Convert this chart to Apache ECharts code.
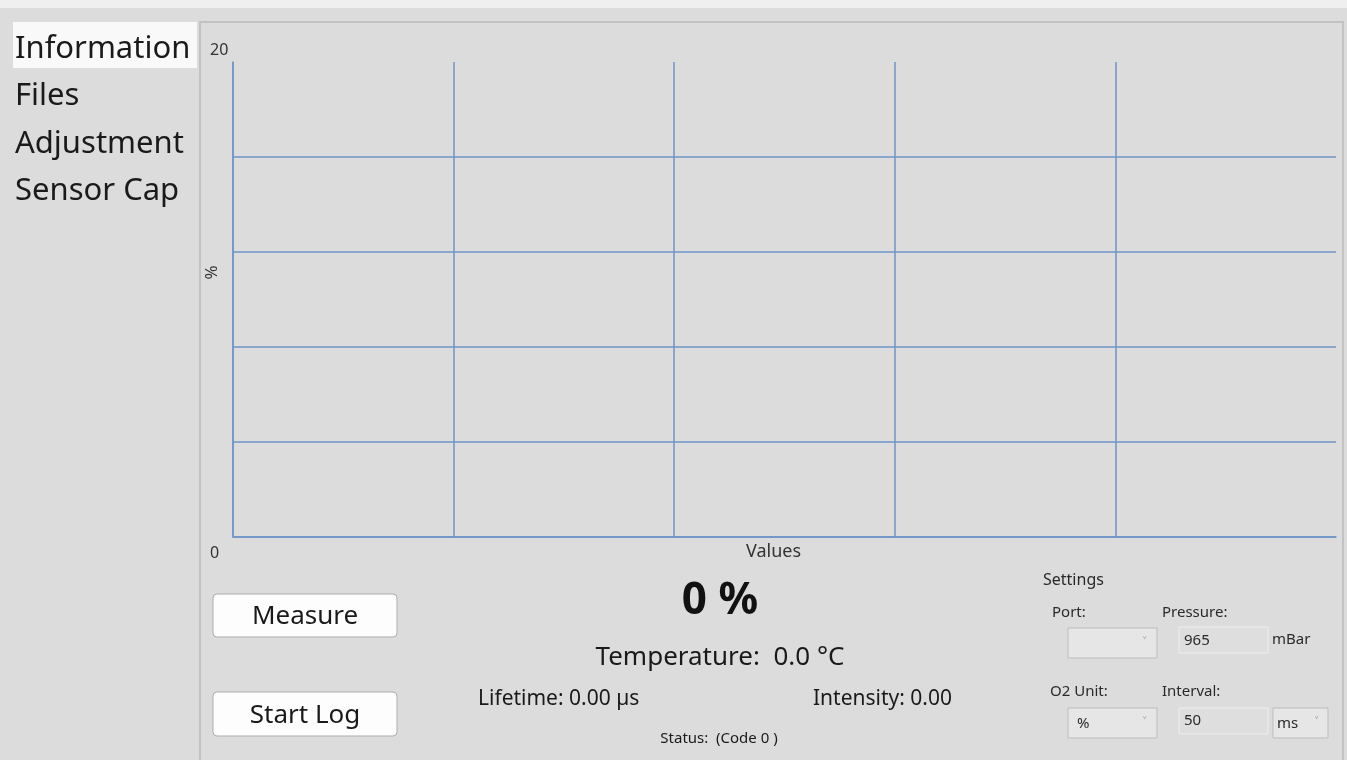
<!DOCTYPE html>
<html>
<head>
<meta charset="utf-8">
<script src="https://cdn.jsdelivr.net/npm/echarts@6/dist/echarts.min.js"></script>
<style>
  html, body { margin: 0; padding: 0; background: #dcdcdc; }
  #chart { width: 1347px; height: 760px; }
</style>
</head>
<body>
<div id="chart"></div>
<script>
// axis ranges and (empty) measurement data
const xRange = [0, 5]
const yRange = [0, 20]
const yShownLabels = [0, 20]
const measuredValues = []

const menuItems = ["Information", "Files", "Adjustment", "Sensor Cap"]
const readout = { value: "0 %", temperature: "Temperature:  0.0 °C", lifetime: "Lifetime: 0.00 µs", intensity: "Intensity: 0.00", status: "Status:  (Code 0 )" }
const settings = { pressure: "965", pressureUnit: "mBar", unit: "%", interval: "50", intervalUnit: "ms" }

const FONT = "'Noto Sans', 'Open Sans', sans-serif"
const gridColor = "#7094c8"

const txt = (x, y, text, size, opt = {}) => ({
  type: "text",
  x, y,
  style: {
    text,
    font: `${opt.weight || "normal"} ${size}px ${FONT}`,
    fill: opt.color || "#1a1a1a",
    textAlign: opt.align || "left",
    textVerticalAlign: "middle"
  }
})

const box = (x, y, w, h, opt = {}) => ({
  type: "rect",
  shape: { x, y, width: w, height: h, r: opt.r || 0 },
  style: { fill: opt.fill || "#fdfdfd", stroke: opt.stroke || "#adadad", lineWidth: 1 }
})

const graphics = [
  { type: "rect", shape: { x: 0, y: 0, width: 1347, height: 8 }, style: { fill: "#efefef" } },
  { type: "polyline", shape: { points: [[200, 760], [200, 22], [1343, 22], [1343, 760]] }, style: { stroke: "#c2c2c2", lineWidth: 2, fill: null } },
  { type: "rect", shape: { x: 13, y: 22, width: 184, height: 46 }, style: { fill: "#f9f9f9" } }
]
menuItems.forEach((m, i) => graphics.push(txt(15, 49 + i * 47.5, m, 31)))

// buttons
graphics.push(box(213, 594, 184, 43, { r: 4 }), txt(305, 617, "Measure", 26, { align: "center" }))
graphics.push(box(213, 692, 184, 44, { r: 4 }), txt(305, 716, "Start Log", 26, { align: "center" }))

// readouts
graphics.push(txt(720, 601, readout.value, 44, { align: "center", weight: "bold", color: "#111" }))
graphics.push(txt(720, 658, readout.temperature, 26, { align: "center" }))
graphics.push(txt(478, 699, readout.lifetime, 21))
graphics.push(txt(952, 699, readout.intensity, 21, { align: "right" }))
graphics.push(txt(719, 739, readout.status, 15, { align: "center" }))

// settings panel
const lbl = "#2a2a2a"
graphics.push(txt(1043, 580, "Settings", 16, { color: lbl }))
graphics.push(txt(1052, 613, "Port:", 15, { color: lbl }))
graphics.push(txt(1162, 613, "Pressure:", 15, { color: lbl }))
graphics.push(box(1068, 628, 89, 30, { fill: "#e6e6e6", stroke: "#bdbdbd" }), txt(1143, 643, "˅", 12, { color: "#888" }))
graphics.push(box(1179, 627, 89, 26, { fill: "#dedede", stroke: "#eeeeee" }), txt(1184, 641, settings.pressure, 15, { color: lbl }))
graphics.push(txt(1272, 640, settings.pressureUnit, 15, { color: lbl }))
graphics.push(txt(1050, 692, "O2 Unit:", 15, { color: lbl }))
graphics.push(txt(1162, 692, "Interval:", 15, { color: lbl }))
graphics.push(box(1068, 708, 89, 30, { fill: "#e6e6e6", stroke: "#bdbdbd" }), txt(1077, 724, settings.unit, 15, { color: lbl }), txt(1143, 723, "˅", 12, { color: "#888" }))
graphics.push(box(1179, 708, 89, 26, { fill: "#dedede", stroke: "#eeeeee" }), txt(1184, 721, settings.interval, 15, { color: lbl }))
graphics.push(box(1273, 708, 55, 30, { fill: "#e6e6e6", stroke: "#bdbdbd" }), txt(1277, 724, settings.intervalUnit, 15, { color: lbl }), txt(1315, 723, "˅", 12, { color: "#888" }))

const myChart = echarts.init(document.getElementById("chart"))

myChart.setOption({
  backgroundColor: "#dcdcdc",
  animation: false,
  textStyle: { fontFamily: FONT },
  grid: { left: 233, right: 11, top: 62, bottom: 223 },
  xAxis: {
    type: "value",
    min: xRange[0],
    max: xRange[1],
    interval: 1,
    name: "Values",
    nameLocation: "middle",
    nameGap: 6,
    nameMoveOverlap: false,
    nameTextStyle: { fontSize: 18, color: "#333", padding: [0, 22, 0, 0] },
    axisLine: { show: true, lineStyle: { color: gridColor, width: 1.5 } },
    axisTick: { show: false },
    axisLabel: { show: false },
    splitLine: { show: true, showMaxLine: false, lineStyle: { color: gridColor, width: 1.5 } }
  },
  yAxis: {
    type: "value",
    min: yRange[0],
    max: yRange[1],
    interval: 4,
    name: "%",
    nameLocation: "middle",
    nameGap: 12,
    nameMoveOverlap: false,
    nameRotate: 90,
    nameTextStyle: { fontSize: 17, color: "#333", padding: [0, 0, 0, 54] },
    axisLine: { show: true, lineStyle: { color: gridColor, width: 1.5 } },
    axisTick: { show: false },
    axisLabel: {
      align: "left",
      margin: 23,
      fontSize: 16,
      color: "#333",
      formatter: (v) => {
        if (!yShownLabels.includes(v)) return ""
        return v === yRange[1] ? `{t|${v}}` : `{b|${v}}`
      },
      rich: {
        t: { fontSize: 16, color: "#333", padding: [0, 0, 24, 0] },
        b: { fontSize: 16, color: "#333", padding: [32, 0, 0, 0] }
      }
    },
    splitLine: { show: true, showMaxLine: false, lineStyle: { color: gridColor, width: 1.5 } }
  },
  series: [
    {
      name: "O2",
      type: "line",
      data: measuredValues,
      showSymbol: false,
      lineStyle: { color: "#c0392b" }
    }
  ],
  graphic: graphics
})
</script>
</body>
</html>
